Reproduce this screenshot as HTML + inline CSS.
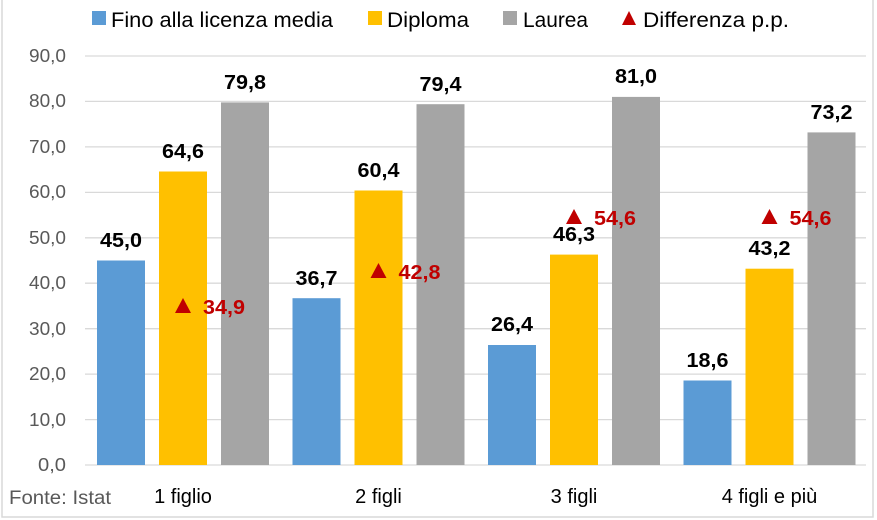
<!DOCTYPE html>
<html><head><meta charset="utf-8"><style>
body{margin:0;background:#fff}
svg{display:block;font-family:"Liberation Sans",sans-serif}
</style></head><body>
<svg width="877" height="520" viewBox="0 0 877 520" xmlns="http://www.w3.org/2000/svg">
<rect x="2" y="-2" width="871" height="519" fill="#fff" stroke="#d9d9d9" stroke-width="1.5"/>
<g stroke="#d9d9d9" stroke-width="1.3">
<line x1="85" x2="866" y1="56" y2="56"/><line x1="85" x2="866" y1="101.4" y2="101.4"/>
<line x1="85" x2="866" y1="146.9" y2="146.9"/><line x1="85" x2="866" y1="192.4" y2="192.4"/>
<line x1="85" x2="866" y1="237.8" y2="237.8"/><line x1="85" x2="866" y1="283.2" y2="283.2"/>
<line x1="85" x2="866" y1="328.7" y2="328.7"/><line x1="85" x2="866" y1="374.1" y2="374.1"/>
<line x1="85" x2="866" y1="419.6" y2="419.6"/><line x1="85" x2="866" y1="465" y2="465"/>
</g>
<g font-size="18" fill="#595959" text-anchor="end" lengthAdjust="spacingAndGlyphs">
<text x="66" y="62" textLength="37" lengthAdjust="spacingAndGlyphs">90,0</text><text x="66" y="107" textLength="37" lengthAdjust="spacingAndGlyphs">80,0</text><text x="66" y="153" textLength="37" lengthAdjust="spacingAndGlyphs">70,0</text>
<text x="66" y="198" textLength="37" lengthAdjust="spacingAndGlyphs">60,0</text><text x="66" y="244" textLength="37" lengthAdjust="spacingAndGlyphs">50,0</text><text x="66" y="289" textLength="37" lengthAdjust="spacingAndGlyphs">40,0</text>
<text x="66" y="335" textLength="37" lengthAdjust="spacingAndGlyphs">30,0</text><text x="66" y="380" textLength="37" lengthAdjust="spacingAndGlyphs">20,0</text><text x="66" y="426" textLength="37" lengthAdjust="spacingAndGlyphs">10,0</text>
<text x="66" y="471" textLength="28" lengthAdjust="spacingAndGlyphs">0,0</text>
</g>
<g>
<rect x="97" y="260.5" width="48" height="204.5" fill="#5B9BD5"/>
<rect x="159" y="171.5" width="48" height="293.5" fill="#FFC000"/>
<rect x="221" y="102.4" width="48" height="362.6" fill="#A5A5A5"/>
<rect x="292.5" y="298.2" width="48" height="166.8" fill="#5B9BD5"/>
<rect x="354.5" y="190.5" width="48" height="274.5" fill="#FFC000"/>
<rect x="416.5" y="104.2" width="48" height="360.8" fill="#A5A5A5"/>
<rect x="488" y="345" width="48" height="120" fill="#5B9BD5"/>
<rect x="550" y="254.6" width="48" height="210.4" fill="#FFC000"/>
<rect x="612" y="96.9" width="48" height="368.1" fill="#A5A5A5"/>
<rect x="683.5" y="380.5" width="48" height="84.5" fill="#5B9BD5"/>
<rect x="745.5" y="268.7" width="48" height="196.3" fill="#FFC000"/>
<rect x="807.5" y="132.4" width="48" height="332.6" fill="#A5A5A5"/>
</g>
<g font-size="20" font-weight="bold" fill="#000" text-anchor="middle">
<text x="121" y="247" textLength="42" lengthAdjust="spacingAndGlyphs">45,0</text><text x="183" y="158" textLength="42" lengthAdjust="spacingAndGlyphs">64,6</text><text x="245" y="89" textLength="42" lengthAdjust="spacingAndGlyphs">79,8</text>
<text x="316.5" y="285" textLength="42" lengthAdjust="spacingAndGlyphs">36,7</text><text x="378.5" y="177" textLength="42" lengthAdjust="spacingAndGlyphs">60,4</text><text x="440.5" y="91" textLength="42" lengthAdjust="spacingAndGlyphs">79,4</text>
<text x="512" y="331" textLength="42" lengthAdjust="spacingAndGlyphs">26,4</text><text x="574" y="241" textLength="42" lengthAdjust="spacingAndGlyphs">46,3</text><text x="636" y="83" textLength="42" lengthAdjust="spacingAndGlyphs">81,0</text>
<text x="707.5" y="367" textLength="42" lengthAdjust="spacingAndGlyphs">18,6</text><text x="769.5" y="255" textLength="42" lengthAdjust="spacingAndGlyphs">43,2</text><text x="831.5" y="119" textLength="42" lengthAdjust="spacingAndGlyphs">73,2</text>
</g>
<g fill="#C00000">
<polygon points="183,298 175,313 191,313"/>
<polygon points="378.5,263 370.5,278 386.5,278"/>
<polygon points="574,209 566,224 582,224"/>
<polygon points="769.5,209 761.5,224 777.5,224"/>
</g>
<g font-size="20" font-weight="bold" fill="#C00000">
<text x="203" y="314" textLength="42" lengthAdjust="spacingAndGlyphs">34,9</text><text x="398.5" y="279" textLength="42" lengthAdjust="spacingAndGlyphs">42,8</text>
<text x="594" y="225" textLength="42" lengthAdjust="spacingAndGlyphs">54,6</text><text x="789.5" y="225" textLength="42" lengthAdjust="spacingAndGlyphs">54,6</text>
</g>
<g font-size="20" fill="#000" text-anchor="middle">
<text x="183" y="503">1 figlio</text><text x="378.5" y="503">2 figli</text>
<text x="574" y="503">3 figli</text><text x="769.5" y="503">4 figli e più</text>
</g>
<text x="9" y="504" font-size="19" fill="#595959" textLength="102" lengthAdjust="spacingAndGlyphs">Fonte: Istat</text>
<g font-size="21" fill="#000">
<rect x="92" y="11" width="14" height="14" fill="#5B9BD5"/><text x="111" y="27" textLength="222" lengthAdjust="spacingAndGlyphs">Fino alla licenza media</text>
<rect x="368" y="11" width="14" height="14" fill="#FFC000"/><text x="387" y="27" textLength="82" lengthAdjust="spacingAndGlyphs">Diploma</text>
<rect x="503" y="11" width="14" height="14" fill="#A5A5A5"/><text x="523" y="27" textLength="65" lengthAdjust="spacingAndGlyphs">Laurea</text>
<polygon points="629,11 622,25 636,25" fill="#C00000"/><text x="643" y="27" textLength="146" lengthAdjust="spacingAndGlyphs">Differenza p.p.</text>
</g>
</svg>
</body></html>
